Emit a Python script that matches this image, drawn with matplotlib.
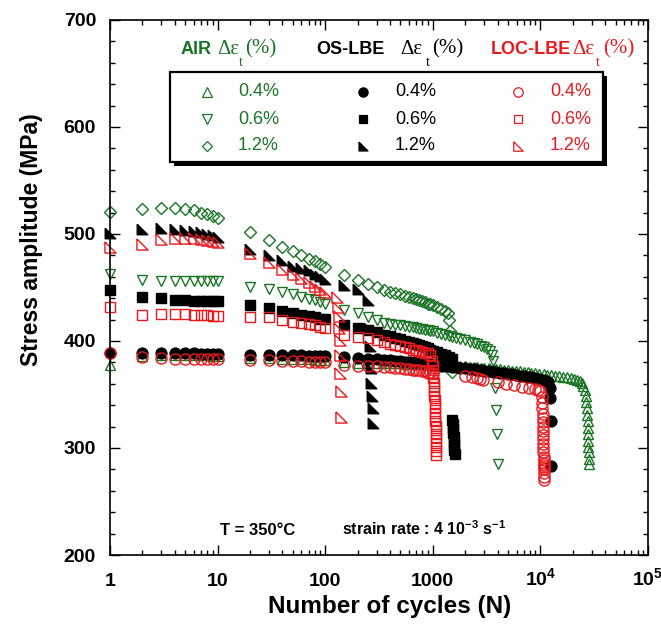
import numpy as np
import matplotlib
matplotlib.use("Agg")
import matplotlib.pyplot as plt
from matplotlib.patches import Rectangle
from matplotlib.ticker import MultipleLocator, LogLocator, NullFormatter

plt.rcParams['font.family'] = ['Liberation Sans', 'DejaVu Sans']
plt.rcParams['mathtext.fontset'] = 'custom'
plt.rcParams['mathtext.rm'] = 'Liberation Sans:bold'
plt.rcParams['mathtext.bf'] = 'Liberation Sans:bold'
plt.rcParams['mathtext.it'] = 'Liberation Sans:bold:italic'

GREEN = '#1b7526'
RED = '#e8191e'

# cycles logged in the first two decades (same for every test)
n_first = [1, 2, 3, 4, 5, 6, 7, 8, 9, 10, 20, 30, 40, 50, 60, 70, 80, 90, 100]

# ---- AIR ----
air04_first = [378, 386, 387, 387, 387, 387, 387, 387, 386, 386, 384, 384, 383, 383, 383, 383, 382, 382, 382]
air04_n = [150, 200, 250, 300, 350, 400, 450, 500, 550, 600, 650, 700, 750, 800, 850, 900, 950, 1000,
           1100, 1200, 1300, 1400, 1500, 1650, 1800, 2000, 2200, 2400, 2600, 2800, 3000,
           3300, 3600, 3900, 4200, 4600, 5000, 5400, 5900, 6400, 7000, 7600, 8200, 9000, 9800,
           10700, 11600, 12600, 13700, 14900, 16200, 17600, 19100, 20700, 22000, 23200, 24200, 25000,
           25700, 26300, 26800, 27100, 27300, 27500, 27600, 27700, 27800, 27900, 28000, 28100, 28200]
air04_s = [380.0, 379.8, 379.6, 379.4, 379.3, 379.2, 379.1, 379.0, 378.9, 378.8, 378.7, 378.6, 378.5, 378.4, 378.3, 378.2, 378.1, 378.0,
           377.8, 377.6, 377.5, 377.3, 377.1, 376.9, 376.6, 376.3, 376.0, 375.7, 375.4, 375.1, 374.8,
           374.5, 374.2, 373.9, 373.6, 373.2, 372.8, 372.4, 372.0, 371.6, 371.1, 370.7, 370.3, 369.8, 369.4,
           368.9, 368.4, 367.9, 367.4, 366.9, 366.4, 365.9, 365.3, 364.6, 363.8, 362.6, 360.8, 358.2,
           354, 349, 343, 337, 331, 325, 319, 313, 307, 301, 296, 290, 285]

air06_first = [463, 457, 456, 456, 456, 456, 456, 456, 456, 456, 450, 448.5, 446, 444, 441.5, 439.5, 438, 436, 434.5]
air06_n = [150, 200, 250, 300, 350, 400, 450, 500, 550, 600, 650, 700, 750, 800, 850, 900, 950, 1000,
           1100, 1200, 1300, 1400, 1500, 1650, 1800, 2000, 2200, 2400, 2600, 2800, 3000,
           3200, 3400, 3550, 3650, 3800, 3900, 3950, 4050]
air06_s = [429, 426, 422, 419.5, 417, 416, 415, 414.5, 414, 413.5, 413, 412, 411.5, 411, 410.5, 410, 409.5, 409,
           407.5, 406.5, 405.5, 404.5, 404, 403, 402, 400.5, 399, 398, 397, 395.5, 394,
           392.5, 390.5, 387, 381, 356, 335.5, 313.5, 285]

air12_first = [521, 523, 524.5, 524, 523, 522, 520, 519, 517, 515, 502, 494, 488, 484, 480, 477, 475, 472, 469]
air12_n = [150, 200, 250, 300, 350, 400, 450, 500, 550, 600, 650, 700, 750, 800, 850, 900, 950, 1000,
           1100, 1200, 1300, 1370, 1400, 1450, 1500]
air12_s = [462, 457, 453, 450, 447.5, 446, 444.5, 443.5, 442, 441, 440, 439, 438, 437, 436, 435, 434.5, 433.5,
           431.5, 430, 428, 426, 420, 409, 371]

# ---- OS-LBE ----
os04_first = [388.5, 389, 389, 389, 388.5, 388.5, 388, 388, 388, 388, 387, 387, 387, 386.5, 386.5, 386, 386, 386, 386]
os04_n = [150, 200, 250, 300, 350, 400, 450, 500, 550, 600, 650, 700, 750, 800, 850, 900, 950, 1000,
          1100, 1200, 1300, 1400, 1500, 1650, 1800, 2000, 2200, 2400, 2600, 2800, 3000,
          3300, 3600, 3900, 4200, 4600, 5000, 5400, 5900, 6400, 7000, 7600, 8200, 9000, 9800,
          10500, 11200, 11800, 12200, 12400, 12500, 12600]
os04_s = [385, 384, 383.5, 383, 382.5, 382, 381.5, 381, 380.7, 380.3, 380, 379.6, 379.3, 379, 378.7, 378.4, 378.2, 378,
          377.5, 377, 376.6, 376.2, 375.8, 375.3, 374.8, 374.3, 373.8, 373.4, 373, 372.7, 372.4,
          371.8, 371.3, 370.8, 370.3, 369.7, 369.2, 368.7, 368.1, 367.6, 367, 366.5, 366, 365.3, 364.7,
          364, 363, 361.5, 356, 347, 325, 283]

os06_first = [448, 441, 440, 438, 438, 437.5, 437, 437, 437, 437, 434, 431, 428, 426, 424.5, 423.5, 422, 421, 420.5]
os06_n = [150, 200, 250, 300, 350, 400, 450, 500, 550, 600, 650, 700, 750, 800, 850, 900, 950, 1000,
          1100, 1200, 1300, 1400, 1500,
          1520, 1530, 1540, 1550, 1560, 1570, 1580, 1590, 1600]
os06_s = [415, 412.5, 410, 408, 406, 404.5, 403, 401.5, 400, 399, 398, 397, 396, 395, 394, 393, 392, 391,
          389.5, 388, 386.5, 385, 383,
          326, 322, 318, 314, 310, 306, 302, 298, 294]

os12_first = [501, 505, 506, 505, 504, 503, 502, 500, 499, 497.5, 486, 480, 475.5, 470.5, 468, 466, 463, 460.5, 458]
os12_n = [150, 200, 250, 258, 262, 266, 269, 272, 276, 280]
os12_s = [452, 449, 438, 412, 395, 375, 361, 349, 337, 323]

# ---- LOC-LBE ----
loc04_first = [388.5, 385.5, 384, 383.5, 383, 383, 383, 383, 383, 383, 382, 382, 381.5, 381, 381, 380.5, 380.5, 380, 380]
loc04_n = [150, 200, 250, 300, 350, 400, 450, 500, 550, 600, 650, 700, 750, 800, 850, 900, 950, 1000,
           2000, 2300, 2550, 2750, 2900, 4000, 4800, 5700, 6700, 7800, 8900, 9600, 10000,
           10300, 10400, 10450, 10500, 10500, 10550, 10550, 10600, 10600, 10600, 10650,
           10650, 10650, 10700, 10700, 10700, 10700, 10750, 10750, 10750, 10800, 10800]
loc04_s = [377.5, 377, 376.8, 376.5, 376, 375.5, 375, 374.5, 374, 373.5, 373.2, 373, 372.5, 372, 371.5, 370.5, 370.2, 369.8,
           367, 366, 365, 364.5, 364, 362, 360, 358.5, 357, 356, 355, 354.5, 353.5,
           348, 342, 337, 332, 328, 324, 320, 316, 312, 308, 304,
           300, 296, 292, 289, 286, 284, 282, 280, 277, 273, 270]

loc06_first = [432, 424, 425.5, 425, 425, 424.5, 424, 424, 423.5, 423, 422.5, 422, 419.5, 417.5, 416.5, 415.5, 414.5, 413, 412]
loc06_n = [150, 200, 250, 300, 350, 400, 450, 500, 550, 600, 650, 700, 750, 800, 850, 900, 950, 990,
           1000, 1005, 1010, 1015, 1020, 1025, 1030, 1035, 1040, 1045, 1050,
           1050, 1055, 1055, 1060, 1060, 1060, 1065, 1065, 1065, 1070, 1070]
loc06_s = [405.5, 404, 402.5, 401, 399, 397.5, 396, 395, 394, 393, 392, 391.5, 390.5, 390, 389, 388.5, 387, 381,
           377, 373, 369, 365, 361, 357, 353, 349, 345, 341, 337,
           333, 329, 325, 321, 317, 313, 309, 305, 301, 297, 293]

loc12_first = [488, 491, 495, 496.5, 496.5, 496, 495, 494, 493, 492.5, 482, 474, 467, 462.5, 459, 455.5, 451.5, 449, 445.5]
loc12_n = [130, 132, 134, 135, 136, 137, 138, 139, 140]
loc12_s = [441, 432, 423, 412, 401, 387, 370, 353, 329]

strain_labels = ['0.4%', '0.6%', '1.2%']

# right-angled triangle marker (vertical left side, flat bottom)
rtri = [(-1, 1), (-1, -1), (1, -1), (-1, 1)]

series = [
    # first values, tail N, tail S, marker, face, edge, size
    (air04_first, air04_n, air04_s, '^', 'none', GREEN, 7.8),
    (air06_first, air06_n, air06_s, 'v', 'none', GREEN, 7.8),
    (air12_first, air12_n, air12_s, 'D', 'none', GREEN, 6.2),
    (os04_first, os04_n, os04_s, 'o', 'k', 'k', 7.8),
    (os06_first, os06_n, os06_s, 's', 'k', 'k', 7),
    (os12_first, os12_n, os12_s, rtri, 'k', 'k', 7.6),
    (loc04_first, loc04_n, loc04_s, 'o', 'none', RED, 8),
    (loc06_first, loc06_n, loc06_s, 's', 'none', RED, 7.2),
    (loc12_first, loc12_n, loc12_s, rtri, 'none', RED, 8),
]

fig = plt.figure(figsize=(6.61, 6.27), dpi=100)
W, H = 661, 627
ax = fig.add_axes([110 / W, 1 - 555 / H, (648 - 110) / W, (555 - 20) / H])

for first, tn, ts, mk, fc, ec, ms in series:
    n = n_first + tn
    s = first + ts
    ax.plot(n, s, linestyle='none', marker=mk, mfc=fc, mec=ec, ms=ms, mew=1.0, clip_on=False)

ax.set_xscale('log')
ax.set_xlim(1, 1e5)
ax.set_ylim(200, 700)
ax.set_xticks([1, 10, 100, 1000, 1e4, 1e5])
ax.set_xticklabels(['1', '10', '100', '1000', r'$10^4$', r'$10^5$'],
                   fontsize=14, fontweight='bold', va='baseline')
ax.xaxis.set_minor_locator(LogLocator(base=10, subs=(2, 3, 4, 5, 6, 7, 8, 9), numticks=20))
ax.xaxis.set_minor_formatter(NullFormatter())
ax.set_yticks([200, 300, 400, 500, 600, 700])
ax.set_yticklabels(['200', '300', '400', '500', '600', '700'], fontsize=14, fontweight='bold')
ax.yaxis.set_minor_locator(MultipleLocator(20))
ax.tick_params(which='both', direction='in', top=True, right=True, width=1)
ax.tick_params(which='major', length=7)
ax.tick_params(which='minor', length=3.5)
ax.tick_params(axis='y', pad=10)
ax.tick_params(axis='x', pad=22)
for sp in ax.spines.values():
    sp.set_linewidth(1.2)

# overlay in pixel coordinates for the legend box and notes
ov = fig.add_axes([0, 0, 1, 1], zorder=5)
ov.set_xlim(0, W)
ov.set_ylim(H, 0)
ov.axis('off')

fig.text(32 / W, 1 - 240 / H, 'Stress amplitude (MPa)', rotation=90, fontsize=16.5,
         fontweight='bold', ha='center', va='center')
fig.text(390 / W, 1 - 607 / H, 'Number of cycles (N)', fontsize=17.5,
         fontweight='bold', ha='center', va='center')

serif = ['Liberation Serif', 'DejaVu Serif']
heads = [('AIR', 181, 217, 238.5, 245, GREEN),
         ('OS-LBE', 316, 400, 425.5, 432, 'k'),
         ('LOC-LBE', 491, 572.5, 596, 603, RED)]
for name, x0, x1, x2, x3, c in heads:
    ov.text(x0, 49, name, fontsize=13, fontweight='bold', color=c, ha='left', va='center')
    ov.text(x1, 49, '\u0394\u03b5', fontsize=15, family=serif, color=c, ha='left', va='center')
    ov.text(x2, 62, 't', fontsize=10, family=serif, color=c, ha='left', va='center')
    ov.text(x3, 49, '(%)', fontsize=15, family=serif, color=c, ha='left', va='center')

ov.add_patch(Rectangle((174, 75.5), 433, 90, facecolor='k', edgecolor='k', lw=0))
ov.add_patch(Rectangle((170, 71.5), 433, 90, facecolor='white', edgecolor='k', lw=1.6))

rows_y = [91.7, 119, 146]
cols = [(207.3, 238, series[0:3], GREEN),
        (363.3, 395, series[3:6], 'k'),
        (517.7, 550, series[6:9], RED)]
for mx, tx, group, c in cols:
    for y, lab, st in zip(rows_y, strain_labels, group):
        ov.plot([mx], [y], linestyle='none', marker=st[3], mfc=st[4], mec=st[5],
                ms=st[6] * 0.85, mew=0.9)
        ov.text(tx, y, lab, fontsize=13, color=c, ha='left', va='center')

ov.text(220, 535, 'T = 350\u00b0C', fontsize=12, fontweight='bold', ha='left', va='baseline')
ov.text(342, 535, r'strain rate : 4 10$^{-3}$ s$^{-1}$', fontsize=11.5, fontweight='bold',
        ha='left', va='baseline')

fig.savefig('out.png', dpi=100)
